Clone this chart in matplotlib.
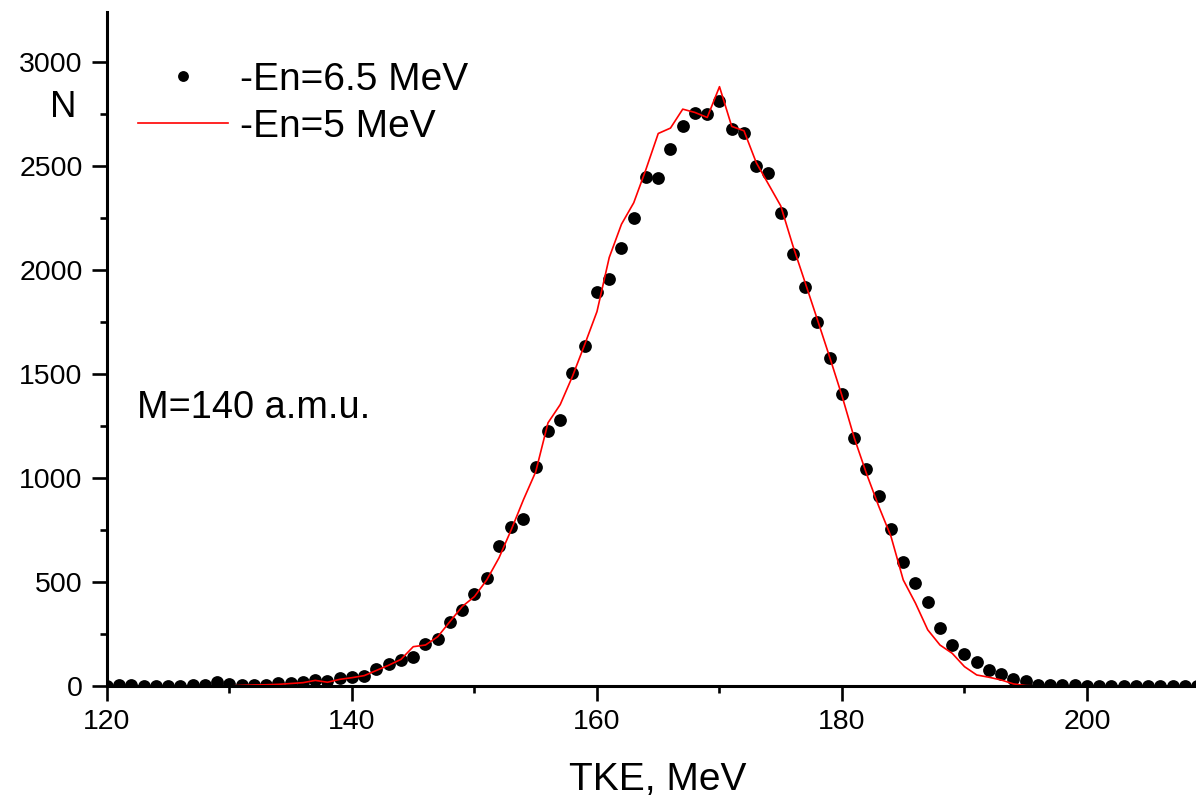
import numpy as np
import matplotlib
matplotlib.use('Agg')
import matplotlib.pyplot as plt
from matplotlib.ticker import MultipleLocator

plt.rcParams['font.family'] = ['Liberation Sans', 'DejaVu Sans']

# TKE bins, MeV
tke = np.arange(120, 210)

# En = 6.5 MeV (dots)
counts_65 = [
    0, 3, 3, 2, 2, 2, 2, 3, 4, 18,
    10, 3, 3, 5, 14, 14, 18, 29, 26, 40,
    45, 47, 82, 105, 125, 138, 200, 225, 310, 363,
    444, 517, 671, 764, 802, 1051, 1224, 1281, 1505, 1634,
    1896, 1958, 2105, 2251, 2449, 2442, 2583, 2693, 2754, 2752,
    2813, 2677, 2658, 2501, 2465, 2276, 2075, 1920, 1748, 1579,
    1406, 1193, 1045, 911, 754, 594, 494, 404, 279, 196,
    156, 117, 77, 58, 35, 26, 6, 4, 3, 3,
    2, 2, 2, 2, 2, 2, 2, 2, 2, 2,
]

# En = 5 MeV (red line)
counts_5 = [
    0, 0, 0, 0, 0, 0, 0, 0, 0, 0,
    0, 3, 5, 6, 8, 12, 16, 27, 18, 32,
    40, 50, 75, 100, 128, 189, 197, 237, 310, 382,
    430, 510, 616, 751, 896, 1030, 1265, 1353, 1489, 1642,
    1800, 2060, 2220, 2323, 2484, 2656, 2682, 2773, 2757, 2733,
    2881, 2690, 2669, 2516, 2412, 2308, 2115, 1938, 1760, 1580,
    1395, 1193, 1021, 864, 719, 510, 398, 270, 197, 157,
    93, 53, 42, 29, 10, 2, 0, 0, 0, 0,
    0, 0, 0, 0, 0, 0, 0, 0, 0, 0,
]

fig = plt.figure(figsize=(11.96, 8.05), dpi=100)
ax = fig.add_axes([107 / 1196, 1 - 686 / 805, 1 - 107 / 1196, (686 - 12) / 805])

ax.plot(tke, counts_65, 'o', color='black', markersize=9.2, markeredgewidth=0,
        label='-En=6.5 MeV', zorder=3)
ax.plot(tke, counts_5, '-', color='#ff0000', linewidth=1.2,
        label='-En=5 MeV', zorder=4)

ax.set_xlim(120, 208.9)
ax.set_ylim(0, 3240)

ax.xaxis.set_major_locator(MultipleLocator(20))
ax.xaxis.set_minor_locator(MultipleLocator(10))
ax.yaxis.set_major_locator(MultipleLocator(500))
ax.yaxis.set_minor_locator(MultipleLocator(250))

for side in ['top', 'right']:
    ax.spines[side].set_visible(False)
for side in ['left', 'bottom']:
    ax.spines[side].set_linewidth(2.2)
    ax.spines[side].set_zorder(5)

ax.tick_params(which='major', direction='out', length=10.5, width=1.9,
               labelsize=20.5, pad=6)
ax.tick_params(which='minor', direction='out', length=5, width=1.9)
ax.tick_params(axis='y', pad=7)

ax.set_xlabel('TKE, MeV', fontsize=28)
ax.xaxis.set_label_coords(0.506, -0.14)
ax.xaxis.label.set_va('center')

ax.set_ylabel('N', fontsize=26.5, rotation=0)
ax.yaxis.set_label_coords(-0.040, 0.858)
ax.yaxis.label.set_va('center')
ax.yaxis.label.set_ha('center')

ax.text(0.0275, 0.4125, 'M=140 a.m.u.', transform=ax.transAxes,
        fontsize=27.3, ha='left', va='center')

ax.legend(loc='upper left', bbox_to_anchor=(138 / 1196, 1 - 62 / 805),
          bbox_transform=fig.transFigure, frameon=False, fontsize=28,
          borderpad=0, borderaxespad=0, handlelength=2.32, handletextpad=0.3,
          labelspacing=0.28, markerscale=0.85)

fig.savefig('out.png', dpi=100)
